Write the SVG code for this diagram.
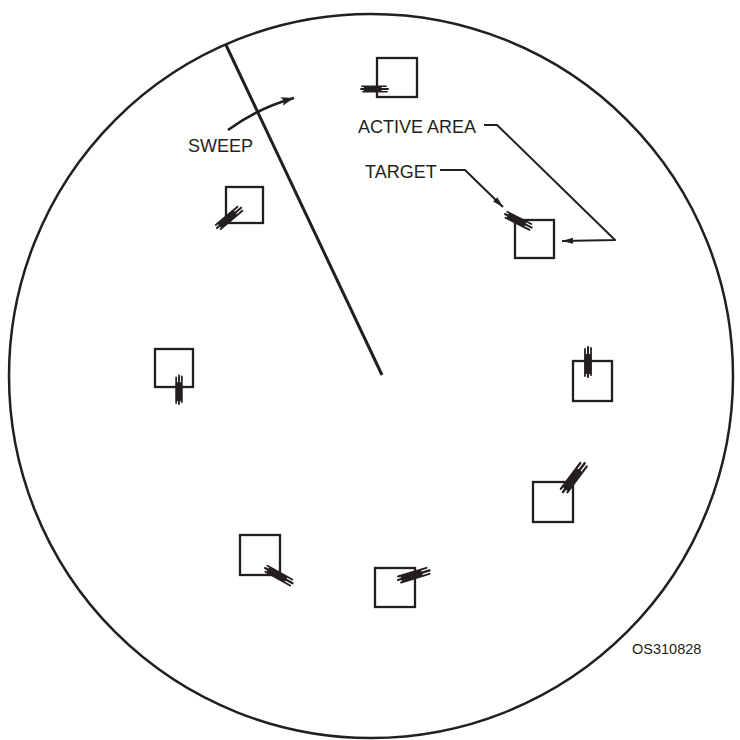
<svg xmlns="http://www.w3.org/2000/svg" xmlns:xlink="http://www.w3.org/1999/xlink" width="740" height="740" viewBox="0 0 740 740">
<style>
.sq{fill:none;stroke:#231f20;stroke-width:2.3}
.ln{fill:none;stroke:#231f20;stroke-width:2;stroke-linejoin:round}
.lbl{font-family:"Liberation Sans",Arial,sans-serif;font-size:18px;fill:#231f20}
.id{font-family:"Liberation Sans",Arial,sans-serif;font-size:14.5px;fill:#231f20}
.mk{stroke:#231f20;fill:none;stroke-linecap:round}
</style>
<defs>
<marker id="ah" markerUnits="userSpaceOnUse" markerWidth="12" markerHeight="8" refX="11" refY="4" orient="auto">
<path d="M0,1 L11,4 L0,7 Z" fill="#231f20"/>
</marker>
<marker id="ahb" markerUnits="userSpaceOnUse" markerWidth="14" markerHeight="10" refX="13" refY="5" orient="auto">
<path d="M0,0.5 L13,5 L0,9.5 L3,5 Z" fill="#231f20"/>
</marker>
<g id="mark">
<line class="mk" x1="1" y1="-3" x2="28" y2="-3" stroke-width="1.8"/>
<line class="mk" x1="0" y1="0" x2="30" y2="0" stroke-width="2"/>
<line class="mk" x1="2" y1="3" x2="29" y2="3" stroke-width="1.8"/>
<line class="mk" x1="6" y1="0" x2="20" y2="0" stroke-width="6.5"/>
</g>
</defs>
<rect width="740" height="740" fill="#fff"/>
<circle id="scope" cx="371" cy="376" r="362" fill="none" stroke="#231f20" stroke-width="2.5"/>
<g id="connectors">
<line id="sweep-line" x1="226" y1="45" x2="382" y2="375" stroke="#231f20" stroke-width="3"/>
<path id="sweep-arrow" fill="none" stroke="#231f20" stroke-width="2.6" d="M228,130 Q258,108 294,98" marker-end="url(#ahb)"/>
<path id="active-leader" class="ln" d="M484,125 L497,125 L615,240 L562,241" marker-end="url(#ah)"/>
<path id="target-leader" class="ln" d="M440,170 L465,170 L503,207" marker-end="url(#ah)"/>
</g>
<g id="n-top"><rect class="sq" x="377" y="58" width="40" height="39"/><use xlink:href="#mark" transform="translate(361,89) rotate(0) scale(0.9)"/></g>
<g id="n-upper-left"><rect class="sq" x="226" y="187" width="37" height="36"/><use xlink:href="#mark" transform="translate(217,228) rotate(-40) scale(1.05)"/></g>
<g id="n-active"><rect class="sq" x="515" y="220" width="39" height="38"/><use xlink:href="#mark" transform="translate(505,214) rotate(27)"/></g>
<g id="n-left"><rect class="sq" x="155" y="349" width="38" height="38"/><use xlink:href="#mark" transform="translate(179,404) rotate(-90) scale(0.95)"/></g>
<g id="n-right"><rect class="sq" x="573" y="361" width="39" height="40"/><use xlink:href="#mark" transform="translate(588,377) rotate(-90)"/></g>
<g id="n-lower-right"><rect class="sq" x="533" y="482" width="40" height="40"/><use xlink:href="#mark" transform="translate(563,492) rotate(-53) scale(1.2)"/></g>
<g id="n-lower-left"><rect class="sq" x="240" y="535" width="40" height="40"/><use xlink:href="#mark" transform="translate(265,568) rotate(29) scale(1.05)"/></g>
<g id="n-bottom"><rect class="sq" x="375" y="568" width="40" height="39"/><use xlink:href="#mark" transform="translate(398,580) rotate(-17) scale(1.1)"/></g>
<g id="labels">
<text class="lbl" x="188" y="152">SWEEP</text>
<text class="lbl" x="358" y="133">ACTIVE AREA</text>
<text class="lbl" x="365" y="178">TARGET</text>
<text class="id" x="632" y="654">OS310828</text>
</g>
</svg>
